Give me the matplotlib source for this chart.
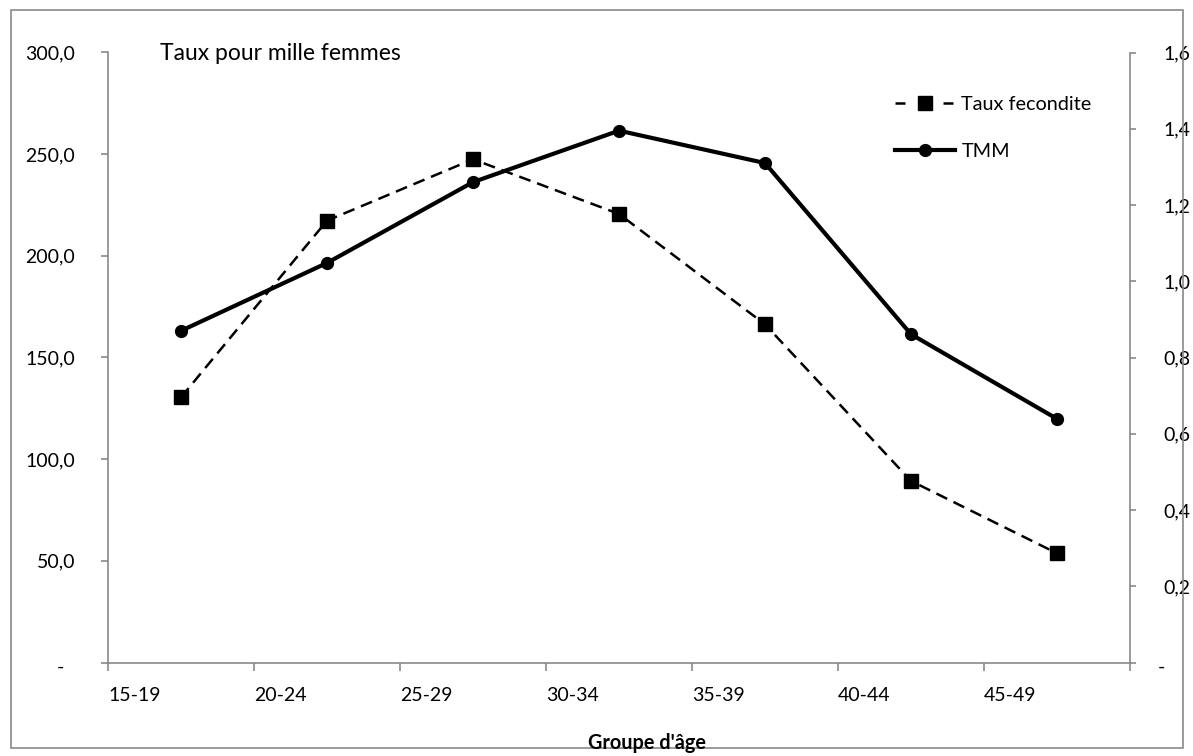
import matplotlib
matplotlib.use("Agg")
import matplotlib.pyplot as plt
import matplotlib.transforms as mtransforms
from matplotlib.lines import Line2D
from matplotlib.patches import Rectangle
from matplotlib.ticker import FixedLocator, FuncFormatter

plt.rcParams['font.family'] = ['Lato', 'DejaVu Sans']

# age groups on the category axis
age_groups = ["15-19", "20-24", "25-29", "30-34", "35-39", "40-44", "45-49"]

# fertility rate per thousand women (left axis)
taux_fecondite = [130.4, 217.3, 247.5, 220.6, 166.3, 89.3, 53.7]

# TMM (right axis)
tmm = [0.87, 1.048, 1.26, 1.395, 1.31, 0.861, 0.639]

left_ticks = [0, 50, 100, 150, 200, 250, 300]
right_ticks = [0, 0.2, 0.4, 0.6, 0.8, 1.0, 1.2, 1.4, 1.6]

W, H = 1193, 756
axis_grey = "#898989"
fs = 14

fig = plt.figure(figsize=(W / 100, H / 100), dpi=100)
ax = fig.add_axes([108 / W, 1 - 662.5 / H, (1130 - 108) / W, (662.5 - 52.5) / H])
ax2 = ax.twinx()

# points sit in the middle of each category slot
xs = [i + 0.5 for i in range(len(age_groups))]

ax.plot(xs, taux_fecondite, color="black", lw=1.8, dashes=(4.8, 2.8),
        marker="s", markersize=9.5)
l2, = ax2.plot(xs, tmm, color="black", lw=3.0, marker="o", markersize=8.5,
               label="TMM")

ax.set_xlim(0, len(age_groups))
ax.set_ylim(0, 300)
ax2.set_ylim(0, 1.6)

def comma_fmt(v, p):
    return "-" if v == 0 else f"{v:.1f}".replace(".", ",")

# category ticks at slot boundaries, labels start right at each tick
ax.xaxis.set_major_locator(FixedLocator(range(len(age_groups) + 1)))
ax.set_xticklabels(age_groups + [""], ha="left", fontsize=fs)
ax.tick_params(axis="x", length=5.8, width=1.2, color=axis_grey, pad=12)

ax.yaxis.set_major_locator(FixedLocator(left_ticks))
ax.yaxis.set_major_formatter(FuncFormatter(comma_fmt))
ax.tick_params(axis="y", length=5, width=1.2, color=axis_grey, pad=18.5, labelsize=fs)

ax2.yaxis.set_major_locator(FixedLocator(right_ticks))
ax2.yaxis.set_major_formatter(FuncFormatter(comma_fmt))
ax2.tick_params(axis="y", length=4.3, width=1.2, color=axis_grey, pad=19.5, labelsize=fs)

for a in (ax, ax2):
    a.spines["top"].set_visible(False)
    for s in ("left", "right", "bottom"):
        a.spines[s].set_color(axis_grey)
        a.spines[s].set_linewidth(1.2)
ax.spines["right"].set_visible(False)
ax2.spines["left"].set_visible(False)
ax2.spines["bottom"].set_visible(False)

# the zero dash sits a little inwards from the other labels
fig.canvas.draw()
shift_left = mtransforms.ScaledTranslation(-11 / 100, -3 / 100, fig.dpi_scale_trans)
ax.get_yticklabels()[0].set_transform(ax.get_yticklabels()[0].get_transform() + shift_left)
shift_right = mtransforms.ScaledTranslation(-5 / 100, -3 / 100, fig.dpi_scale_trans)
ax2.get_yticklabels()[0].set_transform(ax2.get_yticklabels()[0].get_transform() + shift_right)

fig.text(160 / W, 1 - 53 / H, "Taux pour mille femmes", fontsize=16.5,
         ha="left", va="center")
fig.text(647 / W, 1 - 743 / H, "Groupe d'âge", fontsize=14.3, fontweight="bold",
         ha="center", va="center")

# legend entry for the dashed series: short dash, square, short dash
leg_fec = Line2D([], [], color="black", lw=1.8, dashes=(4, 5.6),
                 marker="s", markersize=9.5, label="Taux fecondite")
fig.legend(handles=[leg_fec, l2], loc="upper left", bbox_to_anchor=(885 / W, 1 - 86 / H),
           frameon=False, fontsize=14.3, handlelength=3.0, handletextpad=0.35,
           labelspacing=1.5, borderpad=0)

# thin grey frame round the whole chart
fig.add_artist(Rectangle((11 / W, 1 - 748 / H), (1183 - 11) / W, (748 - 10) / H,
                         transform=fig.transFigure, fill=False,
                         edgecolor=axis_grey, linewidth=1.2))

fig.savefig("out.png", dpi=100)
